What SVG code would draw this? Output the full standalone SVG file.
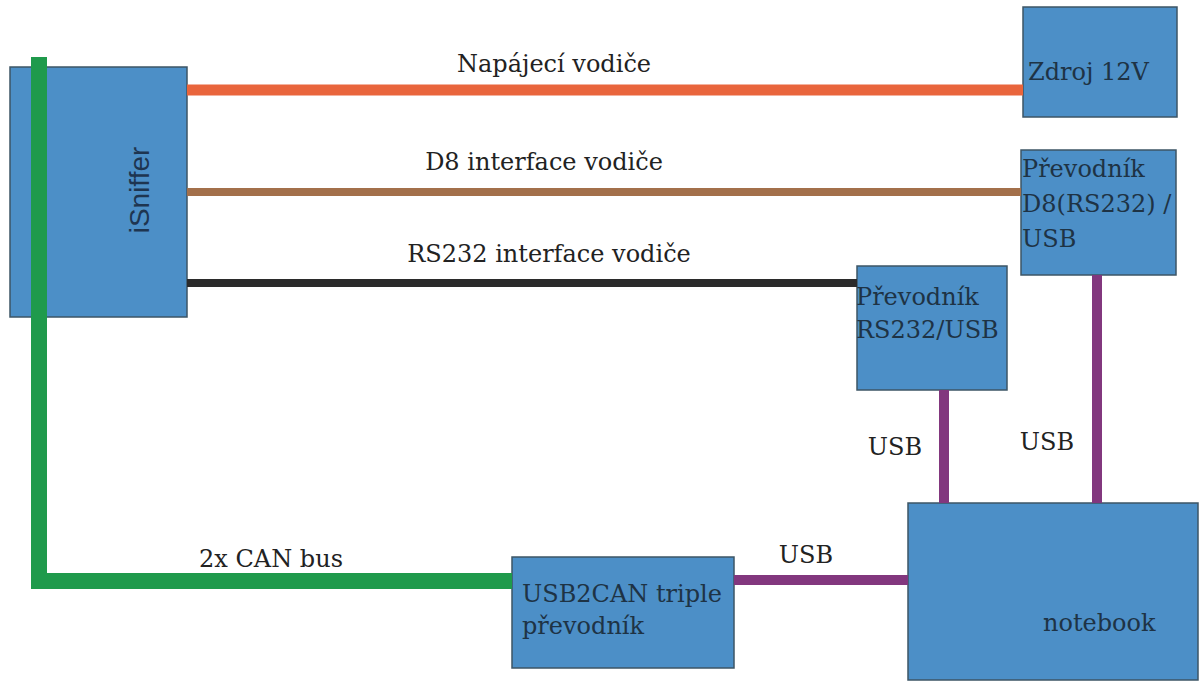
<svg xmlns="http://www.w3.org/2000/svg" width="1201" height="682" viewBox="0 0 1201 682">
<style>
.box{fill:#4c8fc7;stroke:#3d5566;stroke-width:1.5}
.lbl{font-family:"DejaVu Serif","Liberation Serif",serif;font-size:24px;fill:#222}
.in{font-family:"DejaVu Serif","Liberation Serif",serif;font-size:24px;fill:#1e3345}
.w{fill:none;stroke-linecap:butt}
</style>
<rect width="1201" height="682" fill="#fff"/>
<g id="isniffer">
<rect class="box" x="10" y="67" width="177" height="250"/>
<text x="142" y="190" transform="rotate(-90 142 190)" text-anchor="middle" dominant-baseline="middle" style="font-family:'Liberation Sans',Arial,sans-serif;font-size:28px;fill:#1e3550">iSniffer</text>
</g>
<g id="zdroj">
<rect class="box" x="1023" y="7" width="154" height="110"/>
<text class="in" x="1028" y="80">Zdroj 12V</text>
</g>
<g id="prevodnik-d8">
<rect class="box" x="1021" y="150" width="155" height="125"/>
<text class="in" x="1022" y="177">Převodník</text>
<text class="in" x="1022" y="212">D8(RS232) /</text>
<text class="in" x="1022" y="247">USB</text>
</g>
<g id="prevodnik-rs232">
<rect class="box" x="857" y="266" width="150" height="124"/>
<text class="in" x="856" y="305">Převodník</text>
<text class="in" x="856" y="338">RS232/USB</text>
</g>
<g id="notebook">
<rect class="box" x="908" y="503" width="290" height="177"/>
<text class="in" x="1043" y="631">notebook</text>
</g>
<g id="usb2can">
<rect class="box" x="512" y="557" width="222" height="111"/>
<text class="in" x="522" y="602">USB2CAN triple</text>
<text class="in" x="522" y="634">převodník</text>
</g>
<g id="connectors">
<line class="w" x1="187" y1="90" x2="1023" y2="90" stroke="#e9653c" stroke-width="11"/>
<line class="w" x1="187" y1="192" x2="1021" y2="192" stroke="#a3704b" stroke-width="8"/>
<line class="w" x1="187" y1="283" x2="857" y2="283" stroke="#2b2b2b" stroke-width="8"/>
<polyline class="w" points="39,57 39,581 512,581" stroke="#1f9a4c" stroke-width="16"/>
<line class="w" x1="944" y1="390" x2="944" y2="503" stroke="#82377e" stroke-width="10"/>
<line class="w" x1="1097" y1="275" x2="1097" y2="503" stroke="#82377e" stroke-width="10"/>
<line class="w" x1="734" y1="580" x2="908" y2="580" stroke="#82377e" stroke-width="10"/>
<text class="lbl" x="554" y="72" text-anchor="middle">Napájecí vodiče</text>
<text class="lbl" x="544" y="170" text-anchor="middle">D8 interface vodiče</text>
<text class="lbl" x="549" y="262" text-anchor="middle">RS232 interface vodiče</text>
<text class="lbl" x="271" y="567" text-anchor="middle">2x CAN bus</text>
<text class="lbl" x="806" y="563" text-anchor="middle">USB</text>
<text class="lbl" x="895" y="455" text-anchor="middle">USB</text>
<text class="lbl" x="1047" y="450" text-anchor="middle">USB</text>
</g>
</svg>
